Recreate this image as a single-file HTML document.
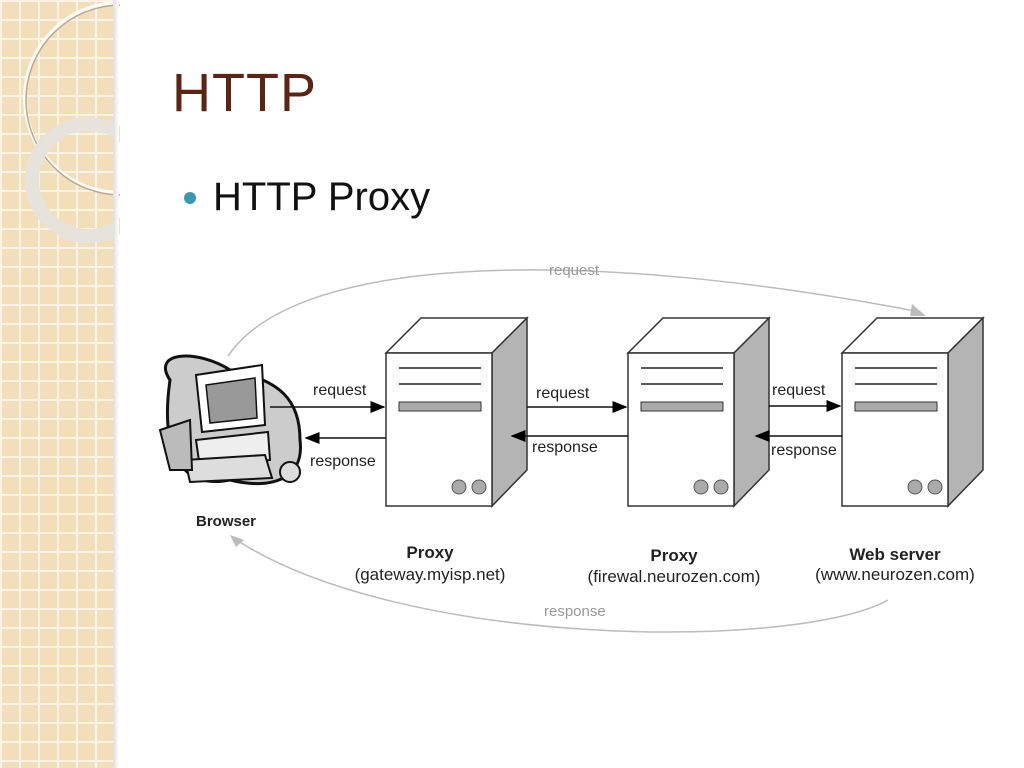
<!DOCTYPE html>
<html><head><meta charset="utf-8"><style>
body{margin:0;width:1024px;height:768px;overflow:hidden;background:#fff;position:relative;font-family:"Liberation Sans",sans-serif}
svg text{font-family:"Liberation Sans",sans-serif}
#side{position:absolute;left:0;top:0;width:113px;height:768px;background-color:#f2dfba;
background-image:linear-gradient(#fbf4e6 2px,transparent 2px),linear-gradient(90deg,#fbf4e6 2px,transparent 2px);background-size:19px 19px}
#shadow{position:absolute;left:113px;top:0;width:6px;height:768px;background:linear-gradient(90deg,#ddd,#fff)}
h1{position:absolute;left:172px;top:62px;margin:0;font-size:54px;font-weight:normal;color:#5e2413;letter-spacing:1px}
.b{position:absolute;left:213px;top:175px;font-size:40px;color:#111}
.dot{position:absolute;left:184px;top:192px;width:12px;height:12px;border-radius:50%;background:#3a98b5}
</style></head><body>
<div id="side"></div>
<svg style="position:absolute;left:0;top:0" width="120" height="768">
<circle cx="120" cy="98" r="95" fill="none" stroke="#fff" stroke-width="4" opacity="0.9"/>
<circle cx="120" cy="98" r="95" fill="none" stroke="#b9a98a" stroke-width="1.5" transform="translate(1,2)"/>
<circle cx="88" cy="180" r="56" fill="none" stroke="#e6e2dc" stroke-width="14"/>
</svg>
<div id="shadow"></div>
<h1>HTTP</h1>
<div class="dot"></div><div class="b">HTTP Proxy</div>
<svg style="position:absolute;left:0;top:0" width="1024" height="768">
<defs>
<marker id="a" markerWidth="10" markerHeight="8" refX="9" refY="4" orient="auto"><path d="M0,0L10,4L0,8z" fill="#000"/></marker>
<g id="srv">
<path d="M0,35L35,0L141,0L106,35z" fill="#fff" stroke="#333" stroke-width="1.5"/>
<path d="M106,35L141,0L141,152L106,188z" fill="#b4b4b4" stroke="#333" stroke-width="1.5"/>
<rect x="0" y="35" width="106" height="153" fill="#fff" stroke="#333" stroke-width="1.5"/>
<line x1="13" y1="50" x2="95" y2="50" stroke="#222" stroke-width="1.5"/>
<line x1="13" y1="66" x2="95" y2="66" stroke="#222" stroke-width="1.5"/>
<rect x="13" y="84" width="82" height="9" fill="#aaa" stroke="#333"/>
<circle cx="73" cy="169" r="7" fill="#aaa" stroke="#555"/>
<circle cx="93" cy="169" r="7" fill="#aaa" stroke="#555"/>
</g>
</defs>
<path d="M228,356 C300,250 600,250 920,312" fill="none" stroke="#bbb" stroke-width="1.5"/>
<path d="M912,304L926,316L910,316z" fill="#bbb"/>
<path d="M888,600 C800,650 400,650 232,537" fill="none" stroke="#bbb" stroke-width="1.5"/>
<path d="M230,535L244,540L236,547z" fill="#bbb"/>
<text x="549" y="275" font-size="15" fill="#999">request</text>
<text x="544" y="616" font-size="15" fill="#999">response</text>
<use href="#srv" x="386" y="318"/>
<use href="#srv" x="628" y="318"/>
<use href="#srv" x="842" y="318"/>
<path d="M170,380 C150,350 200,350 230,370 C280,380 300,400 300,440 C305,480 270,490 230,480 C180,490 160,450 170,380z" fill="#ccc" stroke="#111" stroke-width="3"/>
<path d="M196,375L262,365L265,425L202,432z" fill="#fff" stroke="#111" stroke-width="2"/>
<path d="M206,385L255,378L257,418L210,423z" fill="#999" stroke="#111" stroke-width="1.5"/>
<path d="M196,440L268,432L270,460L200,468z" fill="#eee" stroke="#111" stroke-width="2"/>
<path d="M185,460L265,455L272,478L190,482z" fill="#ddd" stroke="#111" stroke-width="2"/>
<path d="M160,430L190,420L192,470L170,470z" fill="#bbb" stroke="#111" stroke-width="2"/>
<circle cx="290" cy="472" r="10" fill="#ddd" stroke="#111" stroke-width="2"/>
<text x="196" y="526" font-size="15" font-weight="bold" fill="#222">Browser</text>
<line x1="270" y1="407" x2="384" y2="407" stroke="#111" stroke-width="1.5" marker-end="url(#a)"/>
<line x1="386" y1="438" x2="306" y2="438" stroke="#111" stroke-width="1.5" marker-end="url(#a)"/>
<text x="313" y="395" font-size="16" fill="#222">request</text>
<text x="310" y="466" font-size="16" fill="#222">response</text>
<line x1="527" y1="407" x2="626" y2="407" stroke="#111" stroke-width="1.5" marker-end="url(#a)"/>
<line x1="628" y1="436" x2="512" y2="436" stroke="#111" stroke-width="1.5" marker-end="url(#a)"/>
<text x="536" y="398" font-size="16" fill="#222">request</text>
<text x="532" y="452" font-size="16" fill="#222">response</text>
<line x1="769" y1="406" x2="840" y2="406" stroke="#111" stroke-width="1.5" marker-end="url(#a)"/>
<line x1="842" y1="436" x2="756" y2="436" stroke="#111" stroke-width="1.5" marker-end="url(#a)"/>
<text x="772" y="395" font-size="16" fill="#222">request</text>
<text x="771" y="455" font-size="16" fill="#222">response</text>
<g font-size="17" fill="#222" text-anchor="middle">
<text x="430" y="558" font-weight="bold">Proxy</text>
<text x="430" y="580">(gateway.myisp.net)</text>
<text x="674" y="561" font-weight="bold">Proxy</text>
<text x="674" y="582">(firewal.neurozen.com)</text>
<text x="895" y="560" font-weight="bold">Web server</text>
<text x="895" y="580">(www.neurozen.com)</text>
</g>
</svg>
</body></html>
